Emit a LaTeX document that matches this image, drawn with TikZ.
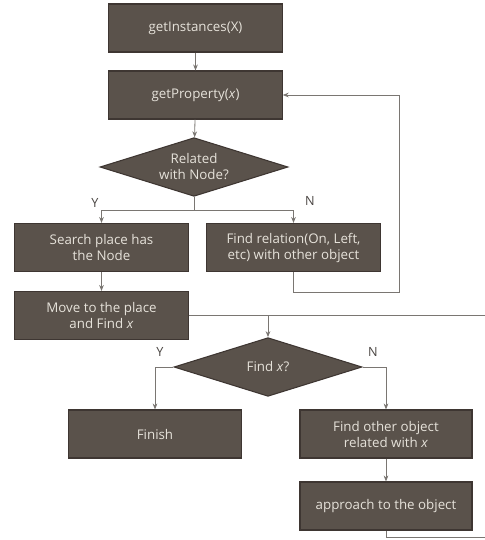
\documentclass[tikz,border=0pt]{standalone}
\usepackage{fontspec}
\setmainfont{Open Sans}
\usetikzlibrary{shapes.geometric,arrows.meta}

\definecolor{boxfill}{HTML}{5A524B}
\definecolor{boxline}{HTML}{3E3632}
\definecolor{boxtext}{HTML}{E6E2DA}
\definecolor{linegray}{HTML}{7A7672}
\definecolor{labelgray}{HTML}{4A4542}

\begin{document}
\begin{tikzpicture}[x=0.75pt,y=-0.75pt,
    stepbox/.style={draw=boxline, fill=boxfill, text=boxtext, line width=0.8pt,
        minimum width=130pt, minimum height=36pt, inner sep=2pt, align=center,
        font=\fontsize{10}{12}\selectfont},
    decision/.style={diamond, aspect=3.2, draw=boxline, fill=boxfill, text=boxtext,
        line width=0.8pt, minimum width=141pt, minimum height=44pt, inner sep=0pt,
        align=center, font=\fontsize{10}{12}\selectfont},
    wire/.style={draw=linegray, line width=0.6pt},
    flow/.style={wire, -{Stealth[length=4.5pt,width=3.5pt]}},
    yn/.style={text=labelgray, font=\fontsize{9.5}{11}\selectfont}]

    \useasboundingbox (0,0) rectangle (485,540);

    % -------------------------------
    % upper part
    % -------------------------------
    \node[stepbox] (inst) at (195.5,28) {getInstances(X)};
    \node[stepbox] (prop) at (195.5,95) {getProperty(\textit{x})};
    \node[decision] (rel) at (194,167) {Related\\with Node?};

    \node[stepbox] (search) at (101.5,247.5) {Search place has\\the Node};
    \node[stepbox] (findrel) at (293.5,247.5) {Find relation(On, Left,\\etc) with other object};
    \node[stepbox] (move) at (101.5,315.5) {Move to the place\\and Find \textit{x}};

    \node[yn] (y1) at (95,203) {Y};
    \node[yn] (n1) at (310,201) {N};

    \draw[flow] (inst) -- (prop);
    \draw[flow] (prop) -- (rel);

    % split after the first question
    \coordinate (split) at (194,210);
    \draw[wire] (rel.south) -- (split);
    \draw[flow] (split) -| (search.north);
    \draw[flow] (split) -| (findrel.north);
    \draw[flow] (search) -- (move);

    % back to getProperty
    \coordinate (loopR) at (399,292);
    \draw[flow] (findrel.south) |- (loopR) |- (prop.east);

    % -------------------------------
    % lower part
    % -------------------------------
    \node[decision] (findx) at (268,367) {Find \textit{x}?};
    \node[stepbox] (finish) at (155,434) {Finish};
    \node[stepbox, minimum width=129pt] (other) at (386,434) {Find other object\\related with \textit{x}};
    \node[stepbox, minimum width=129pt] (approach) at (386,506) {approach to the object};

    \node[yn] (y2) at (160,352) {Y};
    \node[yn] (n2) at (373,352) {N};

    % lines running off the right edge
    \coordinate (edgeA) at (485,315.5);
    \coordinate (edgeB) at (485,537);

    \draw[wire] (move.east) -- (edgeA);
    \draw[flow] (move.east -| findx.north) -- (findx.north);
    \draw[flow] (findx.west) -| (finish.north);
    \draw[flow] (findx.east) -| (other.north);
    \draw[flow] (other) -- (approach);
    \draw[wire] (approach.south) |- (edgeB);

\end{tikzpicture}
\end{document}
